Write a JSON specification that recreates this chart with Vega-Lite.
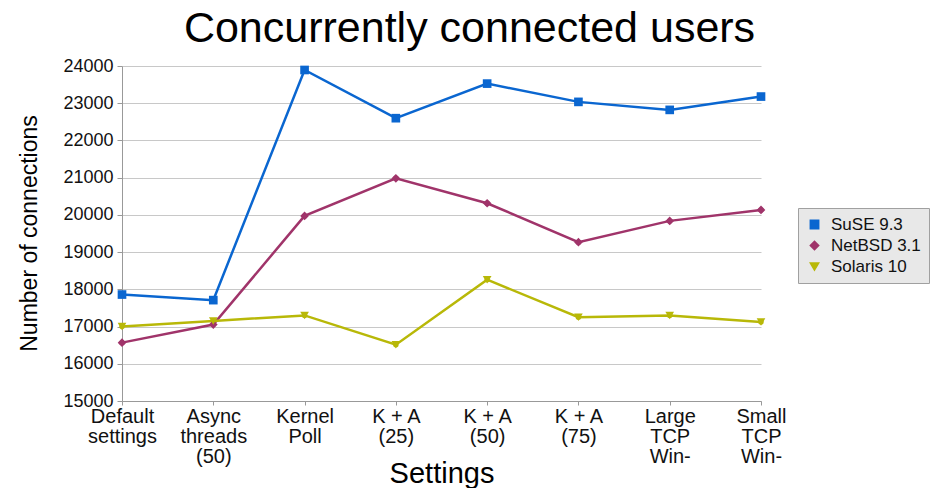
{
  "$schema": "https://vega.github.io/schema/vega-lite/v6.json",
  "width": 639,
  "height": 335,
  "autosize": "none",
  "padding": {"left": 122, "top": 66, "right": 176, "bottom": 87},
  "background": "white",
  "title": {
    "text": "Concurrently connected users",
    "font": "Liberation Sans",
    "fontSize": 43,
    "fontWeight": "normal",
    "color": "#000000",
    "anchor": "middle",
    "dx": 28,
    "baseline": "bottom",
    "offset": -37
  },
  "config": {
    "view": {"stroke": null},
    "font": "Liberation Sans"
  },
  "data": {
    "values": [
      {"setting": "Default|settings", "os": "SuSE 9.3", "value": 17860},
      {"setting": "Async|threads|(50)", "os": "SuSE 9.3", "value": 17710},
      {"setting": "Kernel|Poll", "os": "SuSE 9.3", "value": 23893},
      {"setting": "K + A|(25)", "os": "SuSE 9.3", "value": 22598},
      {"setting": "K + A|(50)", "os": "SuSE 9.3", "value": 23527},
      {"setting": "K + A|(75)", "os": "SuSE 9.3", "value": 23036},
      {"setting": "Large|TCP|Win-", "os": "SuSE 9.3", "value": 22821},
      {"setting": "Small|TCP|Win-", "os": "SuSE 9.3", "value": 23179},
      {"setting": "Default|settings", "os": "NetBSD 3.1", "value": 16568},
      {"setting": "Async|threads|(50)", "os": "NetBSD 3.1", "value": 17054},
      {"setting": "Kernel|Poll", "os": "NetBSD 3.1", "value": 19973},
      {"setting": "K + A|(25)", "os": "NetBSD 3.1", "value": 20982},
      {"setting": "K + A|(50)", "os": "NetBSD 3.1", "value": 20313},
      {"setting": "K + A|(75)", "os": "NetBSD 3.1", "value": 19268},
      {"setting": "Large|TCP|Win-", "os": "NetBSD 3.1", "value": 19839},
      {"setting": "Small|TCP|Win-", "os": "NetBSD 3.1", "value": 20134},
      {"setting": "Default|settings", "os": "Solaris 10", "value": 17000},
      {"setting": "Async|threads|(50)", "os": "Solaris 10", "value": 17150},
      {"setting": "Kernel|Poll", "os": "Solaris 10", "value": 17300},
      {"setting": "K + A|(25)", "os": "Solaris 10", "value": 16514},
      {"setting": "K + A|(50)", "os": "Solaris 10", "value": 18260},
      {"setting": "K + A|(75)", "os": "Solaris 10", "value": 17250},
      {"setting": "Large|TCP|Win-", "os": "Solaris 10", "value": 17300},
      {"setting": "Small|TCP|Win-", "os": "Solaris 10", "value": 17125}
    ]
  },
  "encoding": {
    "x": {
      "field": "setting",
      "type": "nominal",
      "sort": null,
      "scale": {"type": "point", "padding": 0},
      "axis": {
        "title": "Settings",
        "titleFont": "Liberation Sans",
        "titleFontSize": 29,
        "titleFontWeight": "normal",
        "titleColor": "#000000",
        "titleBaseline": "alphabetic",
        "titleY": 81,
        "labelExpr": "split(datum.label, '|')",
        "labelAngle": 0,
        "labelAlign": "center",
        "labelBaseline": "top",
        "labelFont": "Liberation Sans",
        "labelFontSize": 20,
        "labelLineHeight": 20,
        "labelColor": "#111111",
        "labelPadding": 1,
        "labelLimit": 0,
        "labelOverlap": false,
        "tickSize": 4,
        "tickColor": "#999999",
        "domainColor": "#999999",
        "grid": false
      }
    },
    "y": {
      "field": "value",
      "type": "quantitative",
      "scale": {"domain": [15000, 24000], "nice": false, "zero": false},
      "axis": {
        "title": "Number of connections",
        "titleFont": "Liberation Sans",
        "titleFontSize": 23,
        "titleFontWeight": "normal",
        "titleColor": "#000000",
        "titleAngle": -90,
        "titleAlign": "center",
        "titleBaseline": "alphabetic",
        "titleX": -86,
        "titleY": 167,
        "values": [15000, 16000, 17000, 18000, 19000, 20000, 21000, 22000, 23000, 24000],
        "format": "d",
        "labelFont": "Liberation Sans",
        "labelFontSize": 18,
        "labelColor": "#111111",
        "labelPadding": 4,
        "tickSize": 5,
        "tickColor": "#999999",
        "domainColor": "#999999",
        "gridColor": "#c8c8c8",
        "gridWidth": 1
      }
    },
    "color": {
      "field": "os",
      "type": "nominal",
      "sort": ["SuSE 9.3", "NetBSD 3.1", "Solaris 10"],
      "scale": {
        "domain": ["SuSE 9.3", "NetBSD 3.1", "Solaris 10"],
        "range": ["#0a66d0", "#a0346a", "#b8b808"]
      },
      "legend": {
        "title": null,
        "orient": "none",
        "legendX": 676,
        "legendY": 142,
        "fillColor": "#e8e8e8",
        "strokeColor": "#a0a0a0",
        "padding": 8,
        "labelFont": "Liberation Sans",
        "labelFontSize": 17,
        "labelColor": "#111111",
        "labelLimit": 0,
        "symbolSize": 70,
        "rowPadding": 3,
        "labelOffset": 8
      }
    },
    "shape": {
      "field": "os",
      "type": "nominal",
      "sort": ["SuSE 9.3", "NetBSD 3.1", "Solaris 10"],
      "scale": {
        "domain": ["SuSE 9.3", "NetBSD 3.1", "Solaris 10"],
        "range": ["square", "diamond", "triangle-down"]
      },
      "legend": null
    }
  },
  "layer": [
    {
      "mark": {"type": "line", "strokeWidth": 2.5},
      "encoding": {"shape": {"value": null}}
    },
    {
      "mark": {"type": "point", "filled": true, "opacity": 1, "size": 75}
    }
  ]
}
